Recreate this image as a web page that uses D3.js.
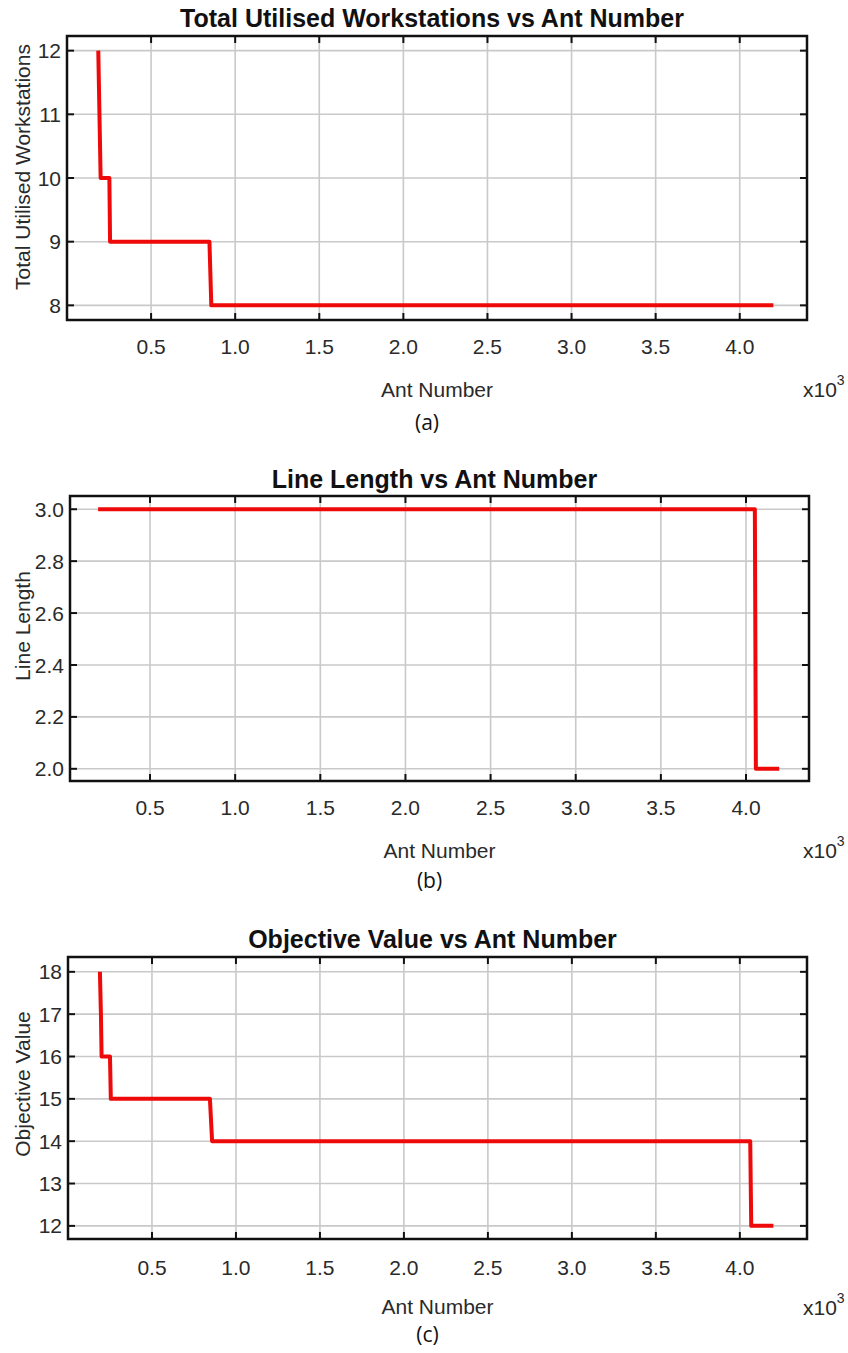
<!DOCTYPE html>
<html>
<head>
<meta charset="utf-8">
<script src="https://d3js.org/d3.v7.min.js"></script>
<style>
  body { margin: 0; background: #fff; }
  svg { display: block; }
  .title { font: bold 25px "Liberation Sans", Arial, sans-serif; fill: #111; }
  .tick-label { font: 21px "Liberation Sans", Arial, sans-serif; fill: #2a2a2a; }
  .axis-label { font: 21px "Liberation Sans", Arial, sans-serif; fill: #2a2a2a; }
  .caption { font: 21px "Open Sans", "DejaVu Sans", sans-serif; fill: #111; }
</style>
</head>
<body>
<svg id="chart" width="848" height="1353"></svg>
<script>
// Data (ant number, value) for each step curve
const antTicks = [500, 1000, 1500, 2000, 2500, 3000, 3500, 4000];

const workstationAnts = [186, 200, 252, 256, 847, 858, 4200];
const workstationValues = [12, 10, 10, 9, 9, 8, 8];
const workstationTicks = [8, 9, 10, 11, 12];

const lineLengthAnts = [195, 4052, 4058, 4195];
const lineLengthValues = [3, 3, 2, 2];
const lineLengthTicks = [2.0, 2.2, 2.4, 2.6, 2.8, 3.0];

const objectiveAnts = [190, 196, 200, 250, 255, 845, 858, 4062, 4068, 4200];
const objectiveValues = [18, 17, 16, 16, 15, 15, 14, 14, 12, 12];
const objectiveTicks = [12, 13, 14, 15, 16, 17, 18];

const titles = ["Total Utilised Workstations vs Ant Number", "Line Length vs Ant Number", "Objective Value vs Ant Number"];
const yLabels = ["Total Utilised Workstations", "Line Length", "Objective Value"];
const captions = ["(a)", "(b)", "(c)"];

// Panel geometry (frame box in px, axis ranges)
const panels = [
  { left: 67, right: 807, top: 36, bottom: 320, xDom: [0, 4400], yDom: [7.77, 12.23],
    ants: workstationAnts, values: workstationValues, yTicks: workstationTicks, yFmt: d3.format("d"),
    titleY: 27, tickY: 354, antY: 397, capY: 430, expY: 397, yLabelY: 167 },
  { left: 70, right: 809, top: 496, bottom: 781, xDom: [30, 4370], yDom: [1.953, 3.051],
    ants: lineLengthAnts, values: lineLengthValues, yTicks: lineLengthTicks, yFmt: d3.format(".1f"),
    titleY: 488, tickY: 815, antY: 858, capY: 888, expY: 858, yLabelY: 626 },
  { left: 68, right: 807, top: 957, bottom: 1239, xDom: [0, 4400], yDom: [11.69, 18.35],
    ants: objectiveAnts, values: objectiveValues, yTicks: objectiveTicks, yFmt: d3.format("d"),
    titleY: 948, tickY: 1275, antY: 1314, capY: 1342, expY: 1315, yLabelY: 1084 }
];

const svg = d3.select("#chart");

panels.forEach((p, i) => {
  const x = d3.scaleLinear().domain(p.xDom).range([p.left, p.right]);
  const y = d3.scaleLinear().domain(p.yDom).range([p.bottom, p.top]);
  const g = svg.append("g");

  // grid
  g.selectAll(".vgrid").data(antTicks).join("line")
    .attr("x1", d => x(d)).attr("x2", d => x(d))
    .attr("y1", p.top).attr("y2", p.bottom)
    .attr("stroke", "#c9c9c9").attr("stroke-width", 1.6);
  g.selectAll(".hgrid").data(p.yTicks).join("line")
    .attr("x1", p.left).attr("x2", p.right)
    .attr("y1", d => y(d)).attr("y2", d => y(d))
    .attr("stroke", "#c9c9c9").attr("stroke-width", 1.6);

  // inward ticks on all four sides
  const tl = 7;
  antTicks.forEach(d => {
    g.append("line").attr("x1", x(d)).attr("x2", x(d)).attr("y1", p.bottom).attr("y2", p.bottom - tl)
      .attr("stroke", "#111").attr("stroke-width", 2);
    g.append("line").attr("x1", x(d)).attr("x2", x(d)).attr("y1", p.top).attr("y2", p.top + tl)
      .attr("stroke", "#111").attr("stroke-width", 2);
  });
  p.yTicks.forEach(d => {
    g.append("line").attr("x1", p.left).attr("x2", p.left + tl).attr("y1", y(d)).attr("y2", y(d))
      .attr("stroke", "#111").attr("stroke-width", 2);
    g.append("line").attr("x1", p.right).attr("x2", p.right - tl).attr("y1", y(d)).attr("y2", y(d))
      .attr("stroke", "#111").attr("stroke-width", 2);
  });

  // step curve
  const pts = p.ants.map((a, k) => [a, p.values[k]]);
  g.append("path")
    .datum(pts)
    .attr("fill", "none")
    .attr("stroke", "#ee0a0a")
    .attr("stroke-width", 4)
    .attr("stroke-linejoin", "round")
    .attr("d", d3.line().x(d => x(d[0])).y(d => y(d[1])));

  // frame
  g.append("rect")
    .attr("x", p.left).attr("y", p.top)
    .attr("width", p.right - p.left).attr("height", p.bottom - p.top)
    .attr("fill", "none").attr("stroke", "#111").attr("stroke-width", 2.5);

  // tick labels
  g.selectAll(".xt").data(antTicks).join("text")
    .attr("class", "tick-label")
    .attr("x", d => x(d)).attr("y", p.tickY)
    .attr("text-anchor", "middle")
    .text(d => d3.format(".1f")(d / 1000));
  g.selectAll(".yt").data(p.yTicks).join("text")
    .attr("class", "tick-label")
    .attr("x", p.left - 6).attr("y", d => y(d))
    .attr("dy", "0.36em")
    .attr("text-anchor", "end")
    .text(d => p.yFmt(d));

  // titles and labels
  const cx = (p.left + p.right) / 2;
  g.append("text").attr("class", "title")
    .attr("x", cx - 5).attr("y", p.titleY)
    .attr("text-anchor", "middle").text(titles[i]);
  g.append("text").attr("class", "axis-label")
    .attr("x", cx).attr("y", p.antY)
    .attr("text-anchor", "middle").text("Ant Number");
  g.append("text").attr("class", "caption")
    .attr("x", cx - 10).attr("y", p.capY)
    .attr("text-anchor", "middle").text(captions[i]);
  g.append("text").attr("class", "axis-label")
    .attr("transform", `translate(22,${p.yLabelY}) rotate(-90)`)
    .attr("dy", "0.36em")
    .attr("text-anchor", "middle").text(yLabels[i]);

  const ex = g.append("text").attr("class", "axis-label")
    .attr("x", 803).attr("y", p.expY);
  ex.append("tspan").text("x10");
  ex.append("tspan").attr("dy", -12).attr("font-size", 14).text("3");
});
</script>
</body>
</html>
